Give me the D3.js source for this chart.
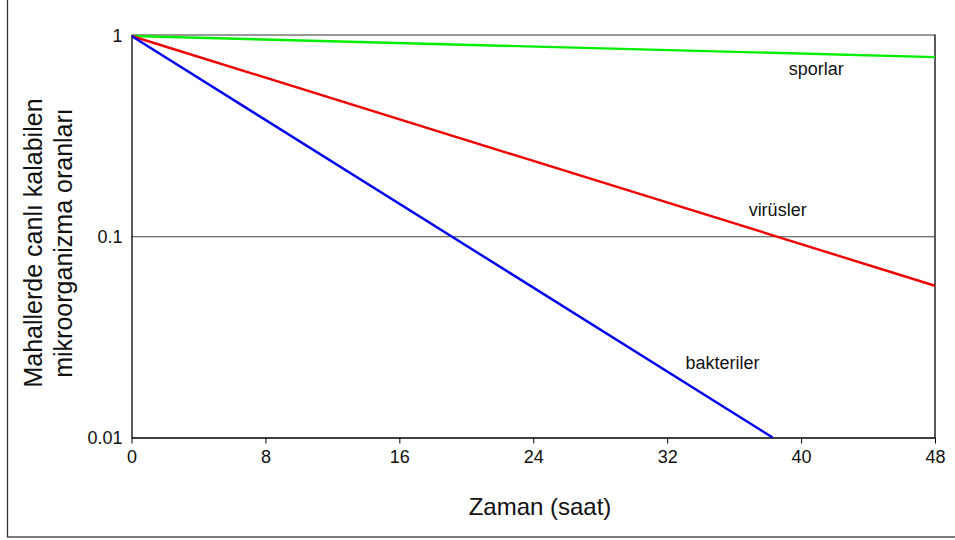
<!DOCTYPE html>
<html>
<head>
<meta charset="utf-8">
<script src="https://cdn.jsdelivr.net/npm/d3@7"></script>
<style>
  body { margin: 0; background: #fff; }
  svg text { font-family: "Liberation Sans", Arial, sans-serif; fill: #111; }
</style>
</head>
<body>
<svg id="chart" width="955" height="540"></svg>
<script>
// Survival fractions of microorganisms over time (log scale)
const seriesNames = ["sporlar", "virüsler", "bakteriler"];
const seriesColors = ["#00ee00", "#ee0000", "#0000ee"];
const sporHours = [0, 48];
const sporValues = [1, 0.785];
const virusHours = [0, 48];
const virusValues = [1, 0.057];
const bacteriaHours = [0, 38.3];
const bacteriaValues = [1, 0.01];
const xTicks = [0, 8, 16, 24, 32, 40, 48];
const yTicks = [0.01, 0.1, 1];
const labelPos = [[40.9, 0.64], [38.6, 0.127], [35.3, 0.0219]];

const margin = { top: 36, right: 20, bottom: 103, left: 131.5 };
const innerWidth = 935 - margin.left;
const innerHeight = 437.5 - margin.top;

const svg = d3.select("#chart");

// outer frame
svg.append("rect")
    .attr("x", 7.5).attr("y", -2)
    .attr("width", 960).attr("height", 539)
    .attr("fill", "none")
    .attr("stroke", "#333")
    .attr("stroke-width", 1.3);

const g = svg.append("g").attr("transform", `translate(${margin.left},${margin.top})`);

const x = d3.scaleLinear().domain([0, 48]).range([0, innerWidth]);
const y = d3.scaleLog().domain([0.01, 1]).range([innerHeight, 0]);

// top border of plot
g.append("line")
    .attr("x1", 0).attr("x2", innerWidth)
    .attr("y1", -1).attr("y2", -1)
    .attr("stroke", "#777").attr("stroke-width", 1.3);

// right border
g.append("line")
    .attr("x1", innerWidth).attr("x2", innerWidth)
    .attr("y1", -1.5).attr("y2", innerHeight)
    .attr("stroke", "#000").attr("stroke-width", 1.3);

// gridline at 0.1
g.append("line")
    .attr("x1", 0).attr("x2", innerWidth)
    .attr("y1", y(0.1)).attr("y2", y(0.1))
    .attr("stroke", "#444").attr("stroke-width", 1);

// axes
const xAxis = g.append("g")
    .attr("transform", `translate(0,${innerHeight})`)
    .call(d3.axisBottom(x).tickValues(xTicks).tickSize(6).tickSizeOuter(0).tickPadding(7));
xAxis.select(".domain").attr("stroke", "#000").attr("stroke-width", 1.3);
xAxis.selectAll(".tick line").attr("stroke", "#000").attr("stroke-width", 1);
xAxis.selectAll(".tick text").style("font-size", "18px");

const yAxis = g.append("g")
    .call(d3.axisLeft(y).tickValues(yTicks).tickFormat(d => String(d)).tickSize(0).tickPadding(9));
yAxis.select(".domain").attr("stroke", "#000").attr("stroke-width", 1.3);
yAxis.selectAll(".tick text").style("font-size", "18px");

// series lines
const series = [
    { hours: sporHours, values: sporValues },
    { hours: virusHours, values: virusValues },
    { hours: bacteriaHours, values: bacteriaValues }
];

const line = d3.line()
    .x(d => x(d[0]))
    .y(d => y(d[1]));

series.forEach((s, i) => {
    g.append("path")
        .datum(s.hours.map((h, j) => [h, s.values[j]]))
        .attr("d", line)
        .attr("fill", "none")
        .attr("stroke", seriesColors[i])
        .attr("stroke-width", 2.4);
});

// series labels
seriesNames.forEach((name, i) => {
    g.append("text")
        .attr("x", x(labelPos[i][0]))
        .attr("y", y(labelPos[i][1]))
        .attr("text-anchor", "middle")
        .style("font-size", "18px")
        .text(name);
});

// axis titles
svg.append("text")
    .attr("x", 540)
    .attr("y", 515)
    .attr("text-anchor", "middle")
    .style("font-size", "24px")
    .text("Zaman (saat)");

const yTitle = svg.append("text")
    .attr("transform", "translate(42,243) rotate(-90)")
    .attr("text-anchor", "middle")
    .style("font-size", "25px");
yTitle.append("tspan").attr("x", 0).attr("y", 0).text("Mahallerde canlı kalabilen");
yTitle.append("tspan").attr("x", 0).attr("y", 30).text("mikroorganizma oranları");
</script>
</body>
</html>
